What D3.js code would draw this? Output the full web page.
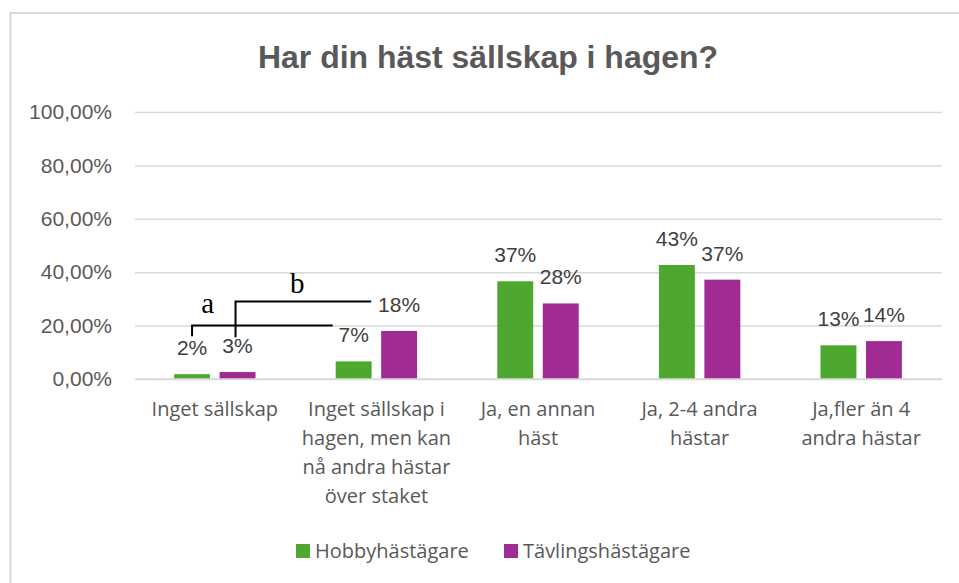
<!DOCTYPE html>
<html>
<head>
<meta charset="utf-8">
<script src="https://cdn.jsdelivr.net/npm/d3@7"></script>
<style>
  html, body { margin: 0; padding: 0; background: #ffffff; }
  svg { display: block; }
</style>
</head>
<body>
<svg id="chart" width="959" height="583"></svg>
<script>
// ---- data ----
const title = "Har din häst sällskap i hagen?";
const categories = [
  "Inget sällskap",
  "Inget sällskap i hagen, men kan nå andra hästar över staket",
  "Ja, en annan häst",
  "Ja, 2-4 andra hästar",
  "Ja,fler än 4 andra hästar"
];
const categoryLines = [
  ["Inget sällskap"],
  ["Inget sällskap i", "hagen, men kan", "nå andra hästar", "över staket"],
  ["Ja, en annan", "häst"],
  ["Ja, 2-4 andra", "hästar"],
  ["Ja,fler än 4", "andra hästar"]
];
const seriesNames = ["Hobbyhästägare", "Tävlingshästägare"];
const hobbyValues = [0.018, 0.066, 0.366, 0.427, 0.126];
const tavlingValues = [0.026, 0.180, 0.283, 0.372, 0.142];
const yTicks = [0, 0.2, 0.4, 0.6, 0.8, 1.0];
const yTickLabels = ["0,00%", "20,00%", "40,00%", "60,00%", "80,00%", "100,00%"];
const bracketLabels = ["a", "b"];
const bracketLevels = [0.20, 0.29];

const colors = ["#4EA72E", "#A02B93"];

// ---- setup ----
const svg = d3.select("#chart");
const W = 959, H = 583;

// chart border (only top & left visible in the crop)
svg.append("path")
  .attr("d", `M10.5,${H + 2} L10.5,13 L${W + 2},13`)
  .attr("fill", "none").attr("stroke", "#d9d9d9").attr("stroke-width", 2);

const x0 = d3.scaleBand().domain(categories).range([134, 942]).paddingInner(0).paddingOuter(0);
const bw = x0.bandwidth();
const x1 = d3.scaleBand().domain(seriesNames)
  .range([bw / 2 - 40.7, bw / 2 + 40.7]).paddingInner(0.21).paddingOuter(0);
const y = d3.scaleLinear().domain([0, 1]).range([379, 112]);

// title
svg.append("text")
  .attr("x", 488).attr("y", 68)
  .attr("text-anchor", "middle")
  .attr("font-family", "'Liberation Sans', Arial, sans-serif")
  .attr("font-weight", "bold")
  .attr("font-size", 31)
  .attr("fill", "#595959")
  .attr("textLength", 460)
  .attr("lengthAdjust", "spacingAndGlyphs")
  .text(title);

// gridlines via axis
const yAxis = d3.axisLeft(y).tickValues(yTicks).tickSize(-(942 - 135)).tickFormat((d, i) => yTickLabels[i]);
const gAxis = svg.append("g").attr("transform", "translate(135,0)").call(yAxis);
gAxis.select(".domain").remove();
gAxis.selectAll(".tick line").attr("stroke", "#d9d9d9").attr("stroke-width", 1.5);
gAxis.selectAll(".tick text")
  .attr("x", -23)
  .attr("font-family", "'Liberation Sans', Arial, sans-serif")
  .attr("font-size", 21)
  .attr("fill", "#595959");

// bars
const rows = categories.map((c, i) => ({ cat: c, vals: [hobbyValues[i], tavlingValues[i]] }));
const groups = svg.append("g").selectAll("g").data(rows).join("g")
  .attr("transform", d => `translate(${x0(d.cat)},0)`);

groups.selectAll("rect").data(d => d.vals.map((v, j) => ({ s: seriesNames[j], v, j })))
  .join("rect")
  .attr("x", d => x1(d.s))
  .attr("y", d => y(d.v))
  .attr("width", x1.bandwidth())
  .attr("height", d => y(0) - y(d.v))
  .attr("fill", d => colors[d.j]);

groups.selectAll("text.lbl").data(d => d.vals.map((v, j) => ({ s: seriesNames[j], v, j })))
  .join("text").attr("class", "lbl")
  .attr("x", d => x1(d.s) + x1.bandwidth() / 2)
  .attr("y", d => y(d.v) - 19)
  .attr("text-anchor", "middle")
  .attr("font-family", "'Liberation Sans', Arial, sans-serif")
  .attr("font-size", 21)
  .attr("fill", "#404040")
  .text(d => Math.round(d.v * 100) + "%");

// baseline
svg.append("line")
  .attr("x1", 135).attr("x2", 942).attr("y1", y(0)).attr("y2", y(0))
  .attr("stroke", "#d9d9d9").attr("stroke-width", 1.5);

// x category labels
const xl = svg.append("g").selectAll("text").data(categories).join("text")
  .attr("text-anchor", "middle")
  .attr("font-family", "'Open Sans', 'Noto Sans', sans-serif")
  .attr("font-size", 20)
  .attr("fill", "#595959")
  .attr("transform", d => `translate(${x0(d) + bw / 2},416)`);
xl.each(function (d, i) {
  d3.select(this).selectAll("tspan").data(categoryLines[i]).join("tspan")
    .attr("x", 0).attr("y", (t, k) => k * 29).text(t => t);
});

// significance brackets
const c0 = categories[0], c1 = categories[1];
const hobbyCenter0 = x0(c0) + x1(seriesNames[0]) + x1.bandwidth() / 2;
const tavCenter0 = x0(c0) + x1(seriesNames[1]) + x1.bandwidth() / 2 - 2;
const hobbyLeft1 = x0(c1) + x1(seriesNames[0]) - 3;
const tavLeft1 = x0(c1) + x1(seriesNames[1]) - 10;
const tickBottom = y(0.16);
const bracketG = svg.append("g").attr("fill", "none").attr("stroke", "#000").attr("stroke-width", 2);
bracketG.append("path")
  .attr("d", `M${hobbyCenter0},${tickBottom} L${hobbyCenter0},${y(bracketLevels[0])} L${hobbyLeft1},${y(bracketLevels[0])}`);
bracketG.append("path")
  .attr("d", `M${tavCenter0},${tickBottom + 1} L${tavCenter0},${y(bracketLevels[1])} L${tavLeft1},${y(bracketLevels[1])}`);

svg.append("text")
  .attr("x", (hobbyCenter0 + tavCenter0) / 2 - 6).attr("y", y(bracketLevels[0]) - 13)
  .attr("text-anchor", "middle")
  .attr("font-family", "'Liberation Serif', 'Times New Roman', serif")
  .attr("font-size", 29).attr("fill", "#000")
  .text(bracketLabels[0]);
svg.append("text")
  .attr("x", (tavCenter0 + tavLeft1) / 2 - 6).attr("y", y(bracketLevels[1]) - 9)
  .attr("text-anchor", "middle")
  .attr("font-family", "'Liberation Serif', 'Times New Roman', serif")
  .attr("font-size", 29).attr("fill", "#000")
  .text(bracketLabels[1]);

// legend
const legendX = [296, 504];
const lg = svg.append("g").selectAll("g").data(seriesNames).join("g")
  .attr("transform", (d, i) => `translate(${legendX[i]},544)`);
lg.append("rect").attr("width", 14).attr("height", 14).attr("fill", (d, i) => colors[i]);
lg.append("text")
  .attr("x", 19).attr("y", 14)
  .attr("font-family", "'Open Sans', 'Noto Sans', sans-serif")
  .attr("font-size", 20)
  .attr("fill", "#595959")
  .text(d => d);
</script>
</body>
</html>
